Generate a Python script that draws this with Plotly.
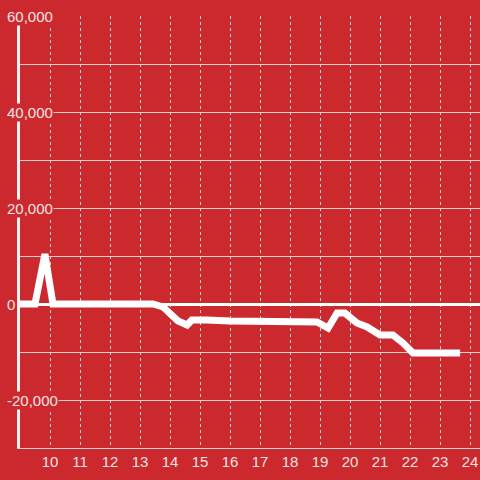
import plotly.graph_objects as go

hours = [9.0, 9.5, 9.83, 10.1, 13.17, 13.43, 13.77, 14.0, 14.27, 14.57, 14.73, 15.23, 16.0,
         18.9, 19.27, 19.57, 19.83, 20.23, 20.57, 21.0, 21.43, 21.77, 22.1, 23.67]
values = [0, 0, 10400, 0, 0, 0, -625, -2100, -3540, -4375, -3330, -3330, -3540,
          -3750, -5000, -1875, -1875, -3960, -4790, -6460, -6460, -8125, -10200, -10200]

x_ticks = list(range(10, 25))
y_label_vals = [60000, 40000, 20000, 0, -20000]
y_label_text = ["60,000", "40,000", "20,000", "0", "-20,000"]

BG = "#CC292E"
TXT = "#F3E3E3"
GRID = "#D9D0D0"

fig = go.Figure()
fig.add_trace(go.Scatter(x=hours, y=values, mode="lines",
                         line=dict(color="white", width=7), hoverinfo="skip",
                         cliponaxis=False))

for v, t in zip(y_label_vals, y_label_text):
    fig.add_annotation(x=-14/460, xref="paper", y=v, yref="y", text=t,
                       xanchor="left", yanchor="middle", showarrow=False,
                       bgcolor=BG if v != 0 else "rgba(0,0,0,0)", borderpad=0,
                       font=dict(color=TXT, size=15, family="Liberation Sans, Arial"))

fig.update_layout(
    width=480, height=480,
    paper_bgcolor=BG, plot_bgcolor=BG,
    margin=dict(l=20, r=0, t=16, b=32),
    showlegend=False,
    font=dict(family="Liberation Sans, Arial", size=15, color=TXT),
)
fig.update_xaxes(range=[9, 9 + 460/30], tickmode="array", tickvals=x_ticks,
                 ticktext=[str(t) for t in x_ticks],
                 showgrid=True, gridcolor=GRID, gridwidth=1, griddash="dot",
                 showline=True, linecolor=GRID, linewidth=1,
                 zeroline=False, ticks="", tickfont=dict(color=TXT, size=15))
fig.update_yaxes(range=[-30000, 60000], dtick=10000, tick0=0,
                 showgrid=True, gridcolor=GRID, gridwidth=1,
                 showline=True, linecolor="#F2F2F2", linewidth=3,
                 zeroline=True, zerolinecolor="white", zerolinewidth=3,
                 showticklabels=False, ticks="")

fig.write_html("out.html", config={"displayModeBar": False},
               post_script="document.body.style.margin='0';document.body.style.overflow='hidden';")
